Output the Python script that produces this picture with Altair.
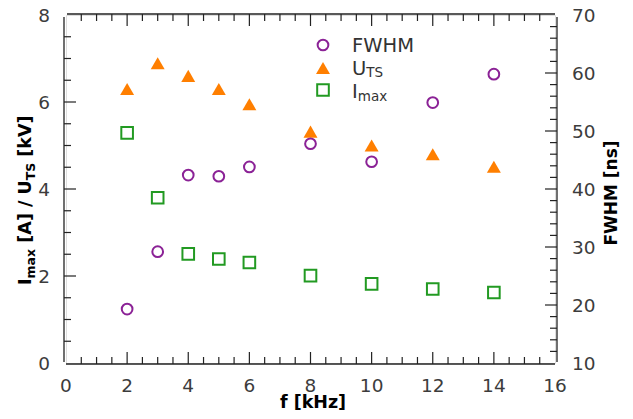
import altair as alt
import pandas as pd

# ---------------- data ----------------
f_khz = [2, 3, 4, 5, 6, 8, 10, 12, 14]
fwhm_ns = [19.3, 29.2, 42.4, 42.2, 43.8, 47.8, 44.7, 54.9, 59.8]
uts_kv = [6.30, 6.89, 6.60, 6.30, 5.95, 5.32, 5.00, 4.80, 4.51]
imax_a = [5.29, 3.80, 2.51, 2.39, 2.31, 2.01, 1.82, 1.70, 1.62]

x_labels = [0, 2, 4, 6, 8, 10, 12, 14, 16]
yl_labels = [0, 2, 4, 6, 8]
yr_labels = [10, 20, 30, 40, 50, 60, 70]

x_major = [2, 4, 6, 8, 10, 12, 14]
x_minor = [v / 2 for v in range(1, 32) if v % 4 != 0]
yl_major = [2, 4, 6]
yl_minor = [v / 2 for v in range(1, 16) if v % 4 != 0]
yr_major = [20, 30, 40, 50, 60]
yr_minor = [v for v in range(12, 70, 2) if v % 10 != 0]

# ---------------- style ----------------
FONT = "DejaVu Sans"
PURPLE = "#8b2296"
ORANGE = "#ff7f00"
GREEN = "#229a22"
LABEL = "#3c3c3c"
LINE = "#222222"
W, H = 489, 348
MAJ, MIN = 12, 7
LFS = 18.5  # tick label font size

df = pd.DataFrame({"f": f_khz, "fwhm": fwhm_ns, "uts": uts_kv, "imax": imax_a})
one = pd.DataFrame({"k": [0]})

xs = alt.Scale(domain=[0, 16], nice=False, zero=False)
yls = alt.Scale(domain=[0, 8], nice=False, zero=False)
yrs = alt.Scale(domain=[10, 70], nice=False, zero=False)

base = alt.Chart(df)

squares = base.mark_point(shape="square", filled=False, size=135, strokeWidth=2,
                          color=GREEN, opacity=1).encode(
    x=alt.X("f:Q", scale=xs, axis=None),
    y=alt.Y("imax:Q", scale=yls, axis=None),
)
triangles = base.mark_point(shape="triangle-up", filled=True, size=195,
                            color=ORANGE, opacity=1).encode(
    x=alt.X("f:Q", scale=xs, axis=None),
    y=alt.Y("uts:Q", scale=yls, axis=None),
)
circles = base.mark_point(shape="circle", filled=False, size=115, strokeWidth=2,
                          color=PURPLE, opacity=1).encode(
    x=alt.X("f:Q", scale=xs, axis=None),
    y=alt.Y("fwhm:Q", scale=yrs, axis=None),
)


def lab_df(vals):
    return pd.DataFrame({"v": vals, "t": [str(v) for v in vals]})


x_tick_labels = alt.Chart(lab_df(x_labels)).mark_text(
    fontSize=LFS, font=FONT, color=LABEL, align="center", baseline="alphabetic").encode(
    x=alt.X("v:Q", scale=xs, axis=None), y=alt.value(H + 29), text="t:N")
yl_tick_labels = alt.Chart(lab_df(yl_labels)).mark_text(
    fontSize=LFS, font=FONT, color=LABEL, align="right", baseline="alphabetic",
    dy=0.36 * LFS).encode(
    y=alt.Y("v:Q", scale=yls, axis=None), x=alt.value(-16), text="t:N")
yr_tick_labels = alt.Chart(lab_df(yr_labels)).mark_text(
    fontSize=LFS, font=FONT, color=LABEL, align="left", baseline="alphabetic",
    dy=0.36 * LFS).encode(
    y=alt.Y("v:Q", scale=yrs, axis=None), x=alt.value(W + 17), text="t:N")


def xticks(vals, y0, y1):
    return alt.Chart(pd.DataFrame({"v": vals})).mark_rule(
        color=LINE, strokeWidth=1.2).encode(
        x=alt.X("v:Q", scale=xs, axis=None), y=alt.value(y0), y2=alt.value(y1))


def yticks(vals, scale, x0, x1):
    return alt.Chart(pd.DataFrame({"v": vals})).mark_rule(
        color=LINE, strokeWidth=1.2).encode(
        y=alt.Y("v:Q", scale=scale, axis=None), x=alt.value(x0), x2=alt.value(x1))


def hline(x0, x1, y):
    return alt.Chart(one).mark_rule(color=LINE, strokeWidth=1.3).encode(
        x=alt.value(x0), x2=alt.value(x1), y=alt.value(y))


def vline(x, y0, y1):
    return alt.Chart(one).mark_rule(color=LINE, strokeWidth=1.3).encode(
        x=alt.value(x), y=alt.value(y0), y2=alt.value(y1))


def txt(x, y, s, size, bold=False, dx=0, dy=0, angle=0, align="left", color="#000000"):
    return alt.Chart(one).mark_text(
        text=s, fontSize=size, fontWeight="bold" if bold else "normal", font=FONT,
        dx=dx, dy=dy, angle=angle, align=align, baseline="alphabetic", color=color
    ).encode(x=alt.value(x), y=alt.value(y))


def sym(x, y, shape, color, filled, size):
    return alt.Chart(one).mark_point(shape=shape, filled=filled, size=size,
                                     strokeWidth=2, color=color, opacity=1).encode(
        x=alt.value(x), y=alt.value(y))


# frame (four separate lines, slightly apart at the corners)
frame = [
    vline(-2, 2, 347),      # left
    hline(0, W, H + 1),     # bottom
    hline(1, W, -1),        # top
    vline(W + 2, 2, 347),   # right
]

ticks_left = [
    xticks(x_major, H + 1, H + 1 - MAJ), xticks(x_minor, H + 1, H + 1 - MIN),
    xticks(x_major, -1, -1 + MAJ), xticks(x_minor, -1, -1 + MIN),
    yticks(yl_major, yls, -2, -2 + MAJ), yticks(yl_minor, yls, -2, -2 + MIN),
]
ticks_right = [
    yticks(yr_major, yrs, W + 2, W + 2 - MAJ), yticks(yr_minor, yrs, W + 2, W + 2 - MIN),
]

# axis titles (with subscripts); widths in em of DejaVu Sans Bold
EM = {"I": 0.372, "max": 2.38, "sp": 0.348, "[A] / U": 3.561, "TS": 1.402}
FS, SS = 17.5, 12.5
tx, ty = -35, 270
d1 = EM["I"] * FS
d2 = d1 + EM["max"] * SS + EM["sp"] * FS
d3 = d2 + EM["[A] / U"] * FS
d4 = d3 + EM["TS"] * SS + EM["sp"] * FS
left_title = [
    txt(tx, ty, "I", FS, True, dx=0, angle=270),
    txt(tx, ty, "max", SS, True, dx=d1, dy=4, angle=270),
    txt(tx, ty, "[A] / U", FS, True, dx=d2, angle=270),
    txt(tx, ty, "TS", SS, True, dx=d3, dy=4, angle=270),
    txt(tx, ty, "[kV]", FS, True, dx=d4, angle=270),
]
right_title = txt(551, 178, "FWHM [ns]", 17, True, angle=270, align="center")
x_title = txt(247, 393, "f [kHz]", 17.5, True, align="center")

# legend
LX, TX = 257, 286
LF, LS = 19.5, 13.5
legend = [
    sym(LX, 30, "circle", PURPLE, False, 115),
    sym(LX, 53, "triangle-up", ORANGE, True, 195),
    sym(LX, 75, "square", GREEN, False, 135),
    txt(TX, 37, "FWHM", LF, color="#333333"),
    txt(TX, 60, "U", LF, color="#333333"),
    txt(TX, 60, "TS", LS, dx=0.732 * LF, dy=2, color="#333333"),
    txt(TX, 83, "I", LF, color="#333333"),
    txt(TX, 83, "max", LS, dx=0.295 * LF, dy=2.5, color="#333333"),
]

left_group = alt.layer(squares, triangles, *ticks_left, *frame, x_tick_labels,
                       yl_tick_labels, *left_title, x_title, *legend)
right_group = alt.layer(circles, *ticks_right, yr_tick_labels, right_title)

chart = alt.layer(left_group, right_group).resolve_scale(y="independent").properties(
    width=W, height=H,
    autosize=alt.AutoSizeParams(type="none"),
    padding={"left": 58, "top": 7, "right": 70, "bottom": 48},
).configure_view(stroke=None).configure(font=FONT)

chart.save("out.html", embed_options={"renderer": "svg", "actions": False})
